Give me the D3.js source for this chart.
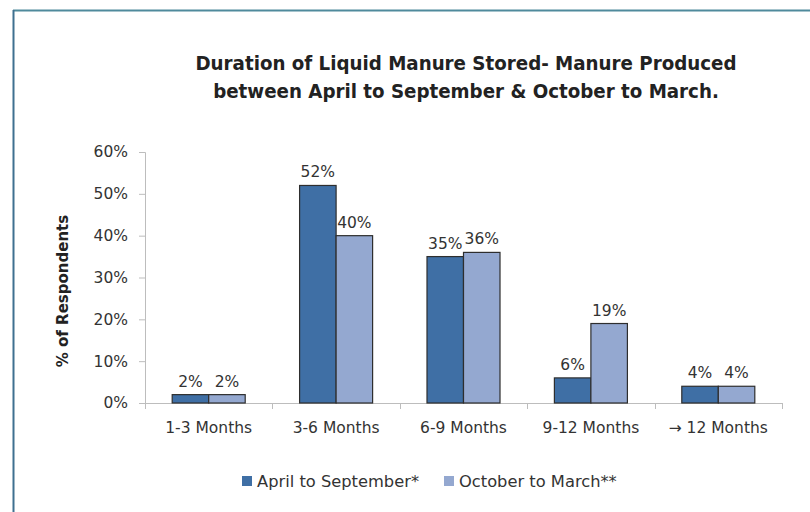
<!DOCTYPE html>
<html><head><meta charset="utf-8">
<script src="https://cdn.jsdelivr.net/npm/d3@7"></script>
<style>
body{margin:0;background:#fff;}
text{font-family:"DejaVu Sans",sans-serif;}
</style></head>
<body><svg id="c" width="810" height="512"></svg>
<script>
const categories = ["1-3 Months","3-6 Months","6-9 Months","9-12 Months","\u2192 12 Months"];
const seriesNames = ["April to September*","October to March**"];
const aprSep = [2,52,35,6,4];
const octMar = [2,40,36,19,4];
const yTicks = [0,10,20,30,40,50,60];
const titleLines = ["Duration of Liquid Manure Stored- Manure Produced","between April to September & October to March."];
const yTitle = "% of Respondents";
const colors = ["#3f6fa5","#94a8d0"];

const svg = d3.select("#c");
// frame
svg.append("line").attr("x1",13).attr("x2",810).attr("y1",10.5).attr("y2",10.5).attr("stroke","#4f8a9c").attr("stroke-width",2);
svg.append("line").attr("x1",13.5).attr("x2",13.5).attr("y1",10).attr("y2",512).attr("stroke","#3f7090").attr("stroke-width",2);

const m = {l:145,r:782,t:152,b:403};
const x0 = d3.scaleBand().domain(categories).range([m.l,m.r]).paddingInner(0).paddingOuter(0);
const x1 = d3.scaleBand().domain([0,1]).range([0,x0.bandwidth()]).paddingInner(0).paddingOuter(0.745);
const y = d3.scaleLinear().domain([0,60]).range([m.b,m.t]);

const fs = 15.5;
// axes
const yAxis = d3.axisLeft(y).tickValues(yTicks).tickFormat(d=>d+"%").tickSize(6).tickPadding(11);
const gy = svg.append("g").attr("transform",`translate(${m.l},0)`).call(yAxis);
gy.select(".domain").attr("stroke","#bdbdbd");
gy.selectAll(".tick line").attr("stroke","#bdbdbd");
gy.selectAll(".tick text").attr("font-size",fs).attr("fill","#333");

// x axis: boundaries ticks
const gx = svg.append("g");
gx.append("line").attr("x1",m.l-6).attr("x2",m.r).attr("y1",m.b+0.5).attr("y2",m.b+0.5).attr("stroke","#bdbdbd");
const bounds = categories.map(c=>x0(c)).concat([m.r]);
gx.selectAll("line.tk").data(bounds).join("line").attr("class","tk")
  .attr("x1",d=>Math.round(d)+0.5).attr("x2",d=>Math.round(d)+0.5).attr("y1",m.b).attr("y2",m.b+6).attr("stroke","#bdbdbd");
gx.selectAll("text").data(categories).join("text")
  .attr("x",d=>x0(d)+x0.bandwidth()/2).attr("y",433).attr("text-anchor","middle")
  .attr("font-size",fs).attr("fill","#333").text(d=>d);

// bars
const series = [aprSep, octMar];
series.forEach((vals,si)=>{
  const g = svg.append("g");
  g.selectAll("rect").data(vals).join("rect")
    .attr("x",(d,i)=>x0(categories[i])+x1(si))
    .attr("y",d=>y(d))
    .attr("width",x1.bandwidth())
    .attr("height",d=>y(0)-y(d))
    .attr("fill",colors[si]).attr("stroke","#2e2e2e").attr("stroke-width",1.2);
  g.selectAll("text").data(vals).join("text")
    .attr("x",(d,i)=>x0(categories[i])+x1(si)+x1.bandwidth()/2)
    .attr("y",d=>y(d)-8).attr("text-anchor","middle")
    .attr("font-size",fs).attr("fill","#333").text(d=>d+"%");
});

// title
svg.append("g").selectAll("text").data(titleLines).join("text")
  .attr("x",466).attr("y",(d,i)=>70+i*28).attr("text-anchor","middle")
  .style("font-family","'DejaVu Sans Condensed'").attr("font-size",20.3).attr("font-weight","bold").attr("fill","#222").text(d=>d);

// y title
svg.append("text").attr("transform","translate(68,291) rotate(-90)").attr("text-anchor","middle")
  .attr("font-size",15).attr("font-weight","bold").attr("fill","#222").text(yTitle);

// legend
const legX = [242,444];
seriesNames.forEach((n,i)=>{
  svg.append("rect").attr("x",legX[i]).attr("y",476).attr("width",10).attr("height",10).attr("fill",colors[i]);
  svg.append("text").attr("x",legX[i]+15).attr("y",487).attr("font-size",16.3).attr("fill","#333").text(n);
});
</script></body></html>
